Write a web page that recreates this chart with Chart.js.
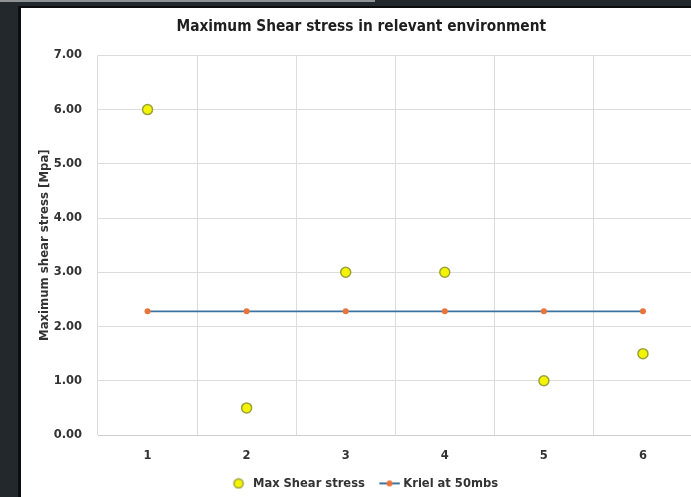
<!DOCTYPE html>
<html>
<head>
<meta charset="utf-8">
<script src="https://cdn.jsdelivr.net/npm/chart.js@4"></script>
<style>
  html, body { margin: 0; padding: 0; }
  html { background: #23282c; }
  body { width: 691px; height: 497px; overflow: hidden; background: #23282c; position: relative; }
  #topbar { position: absolute; left: 0; top: 0; width: 375px; height: 2px; background: #8f9396; }
  #frame { position: absolute; left: 18px; top: 6px; width: 673px; height: 491px; background: #0c0d0e; }
  #panel { position: absolute; left: 21px; top: 8px; width: 670px; height: 489px; background: #ffffff; overflow: hidden; }
  #chart { position: absolute; left: 0; top: 0; }
</style>
</head>
<body>
<div id="topbar"></div>
<div id="frame"></div>
<div id="panel"><canvas id="chart"></canvas></div>
<script>
// Categories along the x axis
const categories = ['1', '2', '3', '4', '5', '6'];
// Maximum shear stress per case [MPa]
const maxShearStress = [6.0, 0.5, 3.0, 3.0, 1.0, 1.5];
// Reference level: Kriel at 50 mbs [MPa]
const krielAt50mbs = [2.28, 2.28, 2.28, 2.28, 2.28, 2.28];
// Y axis range and step
const yMin = 0, yMax = 7, yStep = 1;

const LINE_BLUE = '#3b74a0';
const ORANGE = '#e9743a';
const YELLOW = '#f4f400';
const OLIVE = '#9aa33a';
const TEXT = '#333333';
const GRID = '#dcdcdc';

// Legend icons, drawn into small canvases (36 px wide, centred on the box)
function circleIcon() {
  const c = document.createElement('canvas');
  c.width = 36; c.height = 12;
  const g = c.getContext('2d');
  g.fillStyle = YELLOW; g.strokeStyle = OLIVE; g.lineWidth = 1.5;
  g.beginPath(); g.arc(21, 6, 4.6, 0, Math.PI * 2); g.fill(); g.stroke();
  return c;
}
function lineMarkerIcon() {
  const c = document.createElement('canvas');
  c.width = 36; c.height = 12;
  const g = c.getContext('2d');
  g.strokeStyle = LINE_BLUE; g.lineWidth = 2;
  g.beginPath(); g.moveTo(11.4, 6); g.lineTo(31.9, 6); g.stroke();
  g.fillStyle = ORANGE;
  g.beginPath(); g.arc(21.6, 6, 3, 0, Math.PI * 2); g.fill();
  return c;
}

const canvas = document.getElementById('chart');
canvas.style.width = '690px';
canvas.style.height = '489px';

new Chart(canvas, {
  type: 'line',
  data: {
    labels: categories,
    datasets: [
      {
        label: 'Max Shear stress',
        data: maxShearStress,
        showLine: false,
        pointRadius: 5,
        pointHoverRadius: 5,
        pointBackgroundColor: YELLOW,
        pointBorderColor: OLIVE,
        pointBorderWidth: 1.5,
        backgroundColor: YELLOW,
        borderColor: OLIVE
      },
      {
        label: 'Kriel at 50mbs',
        data: krielAt50mbs,
        borderColor: LINE_BLUE,
        borderWidth: 1.8,
        pointRadius: 3,
        pointHoverRadius: 3,
        pointBackgroundColor: ORANGE,
        pointBorderColor: ORANGE,
        pointBorderWidth: 0,
        fill: false
      }
    ]
  },
  options: {
    responsive: false,
    animation: false,
    devicePixelRatio: 1,
    layout: { padding: { left: 9, right: 18.5, top: 0, bottom: 0 } },
    plugins: {
      title: {
        display: true,
        text: 'Maximum Shear stress in relevant environment',
        color: '#1e1e1e',
        font: { family: 'DejaVu Sans Condensed', size: 15.3, weight: 'bold' },
        padding: { top: 10, bottom: 19 }
      },
      legend: {
        position: 'bottom',
        maxHeight: 33,
        title: { display: true, text: '', font: { size: 2.5 }, padding: 0 },
        labels: {
          color: TEXT,
          font: { family: 'DejaVu Sans Condensed', size: 12.8, weight: 'bold' },
          usePointStyle: true,
          pointStyleWidth: 22,
          boxHeight: 10,
          padding: 10,
          generateLabels(chart) {
            return chart.data.datasets.map((ds, i) => ({
              text: ds.label,
              datasetIndex: i,
              fontColor: TEXT,
              fillStyle: i === 0 ? YELLOW : ORANGE,
              strokeStyle: i === 0 ? OLIVE : LINE_BLUE,
              lineWidth: 0,
              pointStyle: i === 0 ? circleIcon() : lineMarkerIcon(),
              hidden: false
            }));
          }
        }
      },
      tooltip: { enabled: false }
    },
    scales: {
      x: {
        offset: true,
        grid: { offset: true, color: GRID, lineWidth: 1, drawTicks: false },
        border: { color: '#cfcfcf', width: 1 },
        ticks: {
          color: TEXT,
          padding: 14,
          font: { family: 'DejaVu Sans', size: 11.5, weight: 'bold' }
        },
        afterFit(scale) { scale.height = 29; }
      },
      y: {
        min: yMin,
        max: yMax,
        grid: { color: GRID, lineWidth: 1, drawTicks: false },
        border: { display: false },
        ticks: {
          stepSize: yStep,
          color: TEXT,
          padding: 16,
          font: { family: 'DejaVu Sans', size: 11.5, weight: 'bold' },
          callback: v => Number(v).toFixed(2)
        },
        title: {
          display: true,
          text: 'Maximum shear stress [Mpa]',
          color: TEXT,
          font: { family: 'DejaVu Sans Condensed', size: 13, weight: 'bold' },
          padding: { top: 7, bottom: 0 }
        },
        afterFit(scale) { scale.width = 68; }
      }
    }
  }
});
</script>
</body>
</html>
